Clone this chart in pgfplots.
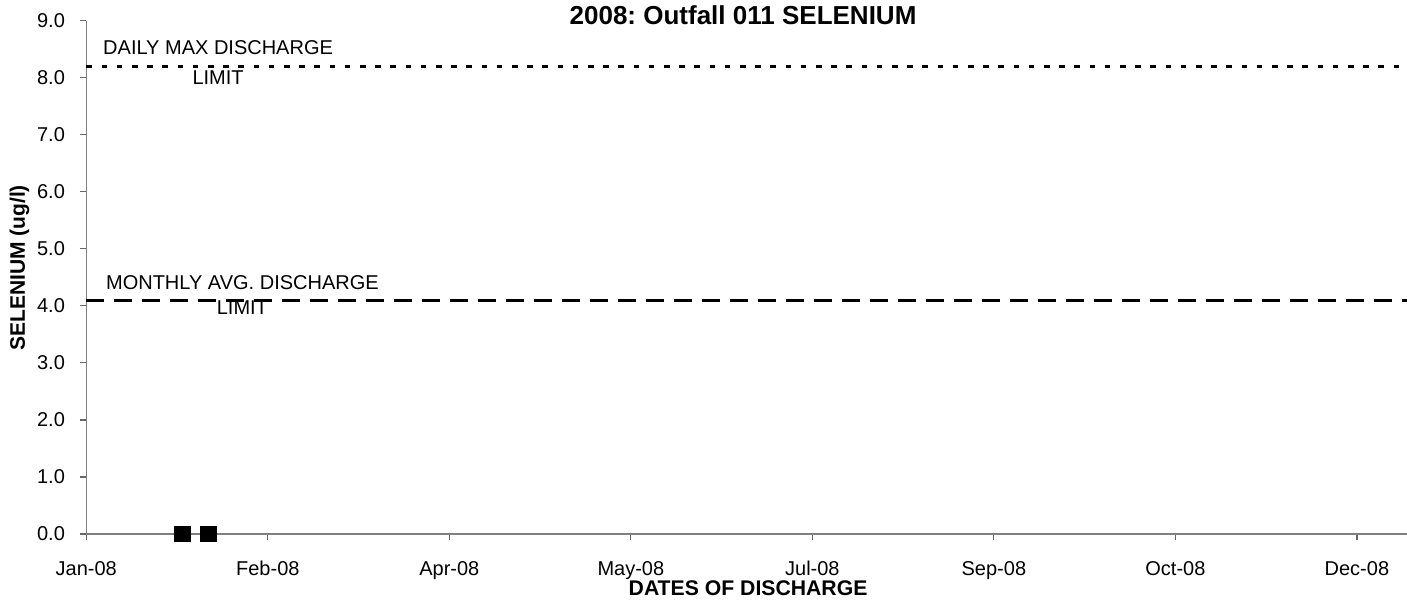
\documentclass[border=0pt]{standalone}
\usepackage{pgfplots}
\pgfplotsset{compat=1.18}
\usepackage{fontspec}
\setmainfont{Liberation Sans}
\usetikzlibrary{calc}
\frenchspacing
\begin{document}
\frenchspacing
\begin{tikzpicture}
\begin{axis}[
  name=ax,
  scale only axis,
  width=660.35bp, height=256.65bp,
  xmin=0, xmax=363.8, ymin=0, ymax=9,
  clip=false,
  axis x line=bottom, axis y line=left,
  axis line style={-, draw=black!50, line width=0.6bp},
  tick align=outside,
  major tick length=3bp,
  tick style={draw=black!60, line width=0.6bp},
  xtick={0,50,100,150,200,250,300,350},
  xticklabels={Jan-08,Feb-08,Apr-08,May-08,Jul-08,Sep-08,Oct-08,Dec-08},
  ytick={0,1,2,3,4,5,6,7,8,9},
  /pgf/number format/assume math mode=true,
  yticklabel style={/pgf/number format/fixed, /pgf/number format/fixed zerofill, /pgf/number format/precision=1},
  tick label style={font=\fontsize{10bp}{12bp}\selectfont},
  xticklabel style={anchor=base, inner sep=0pt, yshift=-18bp},
  yticklabel style={anchor=east, inner sep=0pt, xshift=-7.5bp},
]
\addplot[black, line width=1.6bp, dash pattern=on 2.8bp off 4.8bp] coordinates {(0,8.2) (363.8,8.2)};
\addplot[black, line width=1.5bp, dash pattern=on 9bp off 5bp] coordinates {(0,4.1) (363.8,4.1)};
\addplot[only marks, mark=square*, mark size=3.9bp, black] coordinates {(26.5,0) (33.6,0)};
\node[anchor=base, inner sep=0pt, font=\fontsize{10bp}{12bp}\selectfont] at (axis cs:36.3,8.40) {DAILY MAX DISCHARGE};
\node[anchor=base, inner sep=0pt, font=\fontsize{10bp}{12bp}\selectfont] at (axis cs:36.3,7.885) {LIMIT};
\node[anchor=base, inner sep=0pt, font=\fontsize{10bp}{12bp}\selectfont] at (axis cs:43.0,4.28) {MONTHLY AVG.\ DISCHARGE};
\node[anchor=base, inner sep=0pt, font=\fontsize{10bp}{12bp}\selectfont] at (axis cs:43.0,3.84) {LIMIT};
\node[anchor=base, inner sep=0pt, font=\bfseries\fontsize{13bp}{15bp}\selectfont] at ($(rel axis cs:0.5,1)+(-1.8bp,-2.15bp)$) {2008:\ Outfall 011 SELENIUM};
\node[anchor=base, inner sep=0pt, font=\bfseries\fontsize{10.6bp}{12bp}\selectfont] at ($(rel axis cs:0.5,0)+(0.7bp,-30.85bp)$) {DATES OF DISCHARGE};
\node[anchor=center, rotate=90, inner sep=0pt, font=\bfseries\fontsize{10.5bp}{12bp}\selectfont] at ($(rel axis cs:0,0.5)+(-33.4bp,4.7bp)$) {SELENIUM (ug/l)};
\end{axis}
\pgfresetboundingbox
\path[use as bounding box] ($(ax.south west)+(-43.15bp,-33bp)$) rectangle ($(ax.north east)+(0bp,10.35bp)$);
\end{tikzpicture}
\end{document}
